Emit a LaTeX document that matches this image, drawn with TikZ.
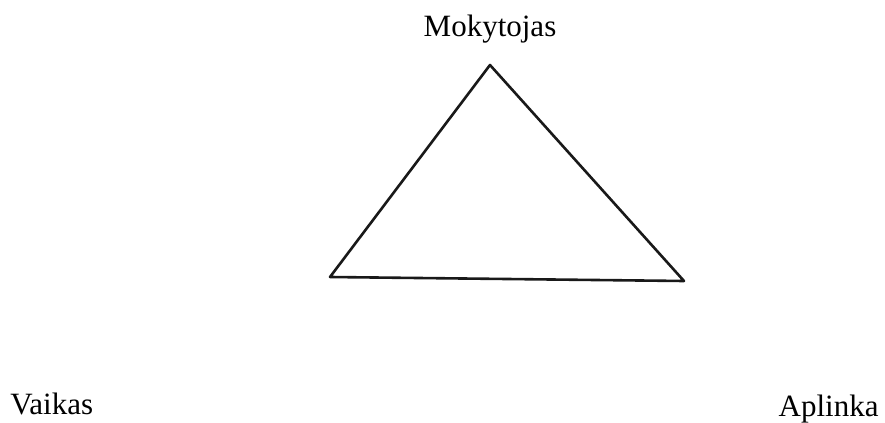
\documentclass[tikz,border=0pt]{standalone}
\usepackage{fontspec}
\setmainfont{Liberation Serif}

\begin{document}
\begin{tikzpicture}[
    x=0.5pt, y=-0.5pt,
    every node/.style={font=\fontsize{15.5}{18}\selectfont, inner sep=0pt},
    side/.style={draw=black!90, line width=1.3pt, line join=round}
  ]
  \useasboundingbox (0,0) rectangle (885,423);
  % triangle corners
  \coordinate (top) at (490,65);
  \coordinate (left) at (330,277);
  \coordinate (right) at (684,281);
  \draw[side] (top) -- (left) -- (right) -- cycle;
  % labels
  \node[anchor=base] (mokytojas) at (490,37) {Mokytojas};
  \node[anchor=base west] (vaikas) at (10,414) {Vaikas};
  \node[anchor=base east] (aplinka) at (879,416) {Aplinka};
\end{tikzpicture}
\end{document}
